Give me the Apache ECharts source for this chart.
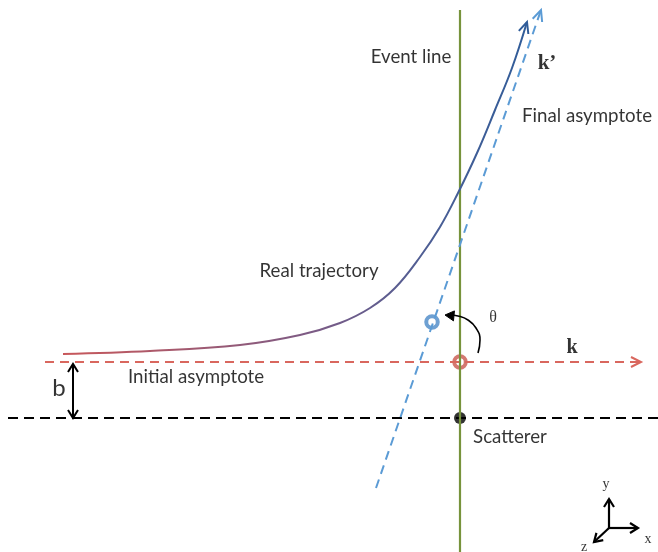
<!DOCTYPE html>
<html><head><meta charset="utf-8">
<script src="https://cdn.jsdelivr.net/npm/echarts@6/dist/echarts.min.js"></script>
<style>html,body{margin:0;padding:0;background:#fff}#c{width:658px;height:552px}</style>
</head><body><div id="c"></div>
<script>
// ---- data (diagram coordinates, y grows downward) ----
const eventLineX = [460, 460];
const eventLineY = [10, 552];
const scattererLineX = [8, 658];
const scattererLineY = [418, 418];
const initialAsymX = [45, 641];
const initialAsymY = [362, 362];
const finalAsymX = [376, 541];
const finalAsymY = [488, 10];
const trajectoryX = [63, 150, 240, 300, 340, 370, 395, 420, 440, 458, 477, 495, 512, 527];
const trajectoryY = [354, 351, 345, 335, 323, 308, 288, 257, 227, 193, 153, 110, 68, 22];
const bArrowX = [73, 73];
const bArrowY = [364, 418];
const thetaArcX = [478, 480, 476, 468, 458, 450];
const thetaArcY = [353, 340, 328, 320, 316, 315];
const triadOrigin = [609, 528];
const triadTipsX = [609, 638, 594];
const triadTipsY = [499, 528, 542];
const ringPoints = [[432, 322], [460, 362]];
const scattererPoint = [460, 418];
const labelTexts = ['Event line', 'k\u2019', 'Final asymptote', 'Real trajectory', '\u03b8', 'k', 'Initial asymptote', 'b', 'Scatterer', 'y', 'x', 'z'];
const labelX = [411, 547, 587, 319, 493, 572, 196, 59, 510, 606, 648, 584];
const labelY = [57, 64, 116, 271, 318, 348, 377, 388, 437, 484, 539, 547];

const zip = (xs, ys) => xs.map((x, i) => [x, ys[i]]);

const SANS = 'Lato, "Open Sans", sans-serif';
const SERIF = '"Liberation Serif", "DejaVu Serif", serif';
const labelStyles = [
  {fontSize: 18.7, fontFamily: SANS},
  {fontSize: 21, fontFamily: SERIF, fontWeight: 'bold'},
  {fontSize: 18.7, fontFamily: SANS},
  {fontSize: 18.7, fontFamily: SANS},
  {fontSize: 16, fontFamily: SERIF},
  {fontSize: 20, fontFamily: SERIF, fontWeight: 'bold'},
  {fontSize: 18.7, fontFamily: SANS},
  {fontSize: 24, fontFamily: SANS},
  {fontSize: 18.7, fontFamily: SANS},
  {fontSize: 14, fontFamily: SERIF},
  {fontSize: 14, fontFamily: SERIF},
  {fontSize: 14, fontFamily: SERIF}
];

// arrowheads: [tipX, tipY, fromX, fromY]
const n = trajectoryX.length;
const arcN = thetaArcX.length;
const arrowData = [
  [trajectoryX[n-1], trajectoryY[n-1], trajectoryX[n-2], trajectoryY[n-2]],
  [finalAsymX[1], finalAsymY[1], finalAsymX[0], finalAsymY[0]],
  [initialAsymX[1], initialAsymY[1], initialAsymX[0], initialAsymY[0]],
  [bArrowX[0], bArrowY[0], bArrowX[1], bArrowY[1]],
  [bArrowX[1], bArrowY[1], bArrowX[0], bArrowY[0]],
  [triadTipsX[0], triadTipsY[0], triadOrigin[0], triadOrigin[1]],
  [triadTipsX[1], triadTipsY[1], triadOrigin[0], triadOrigin[1]],
  [triadTipsX[2], triadTipsY[2], triadOrigin[0], triadOrigin[1]],
  [thetaArcX[arcN-1] - 5, thetaArcY[arcN-1], thetaArcX[arcN-1], thetaArcY[arcN-1] + 0.5]
];
const arrowStyles = [
  {color: '#2F5C99', len: 11, half: 5, width: 2, filled: false},
  {color: '#5B9BD5', len: 11, half: 5, width: 2, filled: false},
  {color: '#D9675E', len: 10, half: 5, width: 2, filled: false},
  {color: '#000', len: 8, half: 5, width: 2, filled: false},
  {color: '#000', len: 8, half: 5, width: 2, filled: false},
  {color: '#000', len: 8, half: 5, width: 2.2, filled: false},
  {color: '#000', len: 8, half: 5, width: 2.2, filled: false},
  {color: '#000', len: 8, half: 5, width: 2.2, filled: false},
  {color: '#000', len: 9, half: 5, width: 1, filled: true}
];

const lineSeries = (data, color, width, type, extra) => Object.assign({
  type: 'line', data, symbol: 'none', silent: true, animation: false,
  lineStyle: {color, width, type}
}, extra || {});

const chart = echarts.init(document.getElementById('c'), null, {renderer: 'canvas'});
chart.setOption({
  backgroundColor: '#fff',
  animation: false,
  grid: {left: 0, right: 0, top: 0, bottom: 0},
  xAxis: {type: 'value', min: 0, max: 658, show: false},
  yAxis: {type: 'value', min: 0, max: 552, inverse: true, show: false},
  series: [
    lineSeries(zip(scattererLineX, scattererLineY), '#000', 2.2, [10, 6]),
    lineSeries(zip(initialAsymX, initialAsymY), '#D9675E', 2, [9, 6]),
    lineSeries(zip(eventLineX, eventLineY), '#77933C', 2.2, 'solid'),
    lineSeries(zip(finalAsymX, finalAsymY), '#5B9BD5', 2, [9, 6]),
    lineSeries(zip(trajectoryX, trajectoryY), new echarts.graphic.LinearGradient(0, 0, 1, 0, [
      {offset: 0, color: '#C9585A'},
      {offset: 0.55, color: '#7A5B86'},
      {offset: 0.8, color: '#4A5E95'},
      {offset: 1, color: '#2F5C99'}
    ]), 2, 'solid', {smooth: 0.4}),
    lineSeries(zip(bArrowX, bArrowY), '#000', 2, 'solid'),
    lineSeries(zip(thetaArcX, thetaArcY), '#000', 1.6, 'solid', {smooth: 0.5}),
    lineSeries([triadOrigin, [triadTipsX[0], triadTipsY[0]]], '#000', 2.2, 'solid'),
    lineSeries([triadOrigin, [triadTipsX[1], triadTipsY[1]]], '#000', 2.2, 'solid'),
    lineSeries([triadOrigin, [triadTipsX[2], triadTipsY[2]]], '#000', 2.2, 'solid'),
    {
      type: 'custom', silent: true, animation: false,
      encode: {x: [0, 2], y: [1, 3]},
      data: arrowData,
      renderItem(params, api) {
        const st = arrowStyles[params.dataIndex];
        const tip = api.coord([api.value(0), api.value(1)]);
        const from = api.coord([api.value(2), api.value(3)]);
        let dx = tip[0] - from[0], dy = tip[1] - from[1];
        const d = Math.hypot(dx, dy) || 1; dx /= d; dy /= d;
        const bx = tip[0] - dx * st.len, by = tip[1] - dy * st.len;
        const nx = -dy, ny = dx;
        const pts = [[bx + nx * st.half, by + ny * st.half], tip, [bx - nx * st.half, by - ny * st.half]];
        if (st.filled) {
          return {type: 'polygon', shape: {points: pts}, style: {fill: st.color, stroke: st.color, lineWidth: st.width}};
        }
        return {type: 'polyline', shape: {points: pts}, style: {fill: null, stroke: st.color, lineWidth: st.width, lineJoin: 'miter'}};
      }
    },
    {
      type: 'scatter', silent: true, animation: false, symbolSize: 11.5,
      data: [
        {value: ringPoints[0], itemStyle: {color: '#fff', borderColor: '#4A88C7', borderWidth: 4}},
        {value: ringPoints[1], itemStyle: {color: '#fff', borderColor: '#C9564E', borderWidth: 4}},
        {value: scattererPoint, symbolSize: 12, itemStyle: {color: '#000'}}
      ]
    },
    {
      type: 'scatter', silent: true, animation: false, symbolSize: 0,
      data: labelTexts.map((t, i) => ({
        value: [labelX[i], labelY[i]],
        label: Object.assign({show: true, position: 'inside', formatter: t, color: '#000', align: 'center', verticalAlign: 'middle'}, labelStyles[i])
      }))
    }
  ]
});
</script></body></html>
